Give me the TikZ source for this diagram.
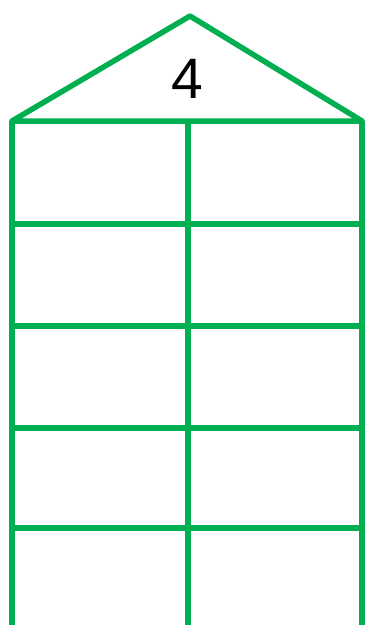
\documentclass[tikz,border=0pt]{standalone}
\usepackage{fontspec}
\setmainfont{Liberation Sans}
\definecolor{housegreen}{RGB}{0,176,80}
\begin{document}
\begin{tikzpicture}[
    x=1pt, y=-1pt,
    wall/.style={draw=housegreen, line width=5.5pt, line join=round}
]
\useasboundingbox (0,0) rectangle (367,625);
\coordinate (apex) at (190,16);
\coordinate (eaveL) at (12,121);
\coordinate (eaveR) at (362,121);
\draw[wall] (eaveL) -- (apex) -- (eaveR) -- cycle;
\foreach \x in {12,188,362} {
    \draw[wall] (\x,121) -- (\x,628);
}
\foreach \y in {224,326,428,528} {
    \draw[wall] (12,\y) -- (362,\y);
}
\node[font=\fontsize{57}{60}\selectfont, inner sep=0pt] (num) at (187,79) {4};
\end{tikzpicture}
\end{document}
